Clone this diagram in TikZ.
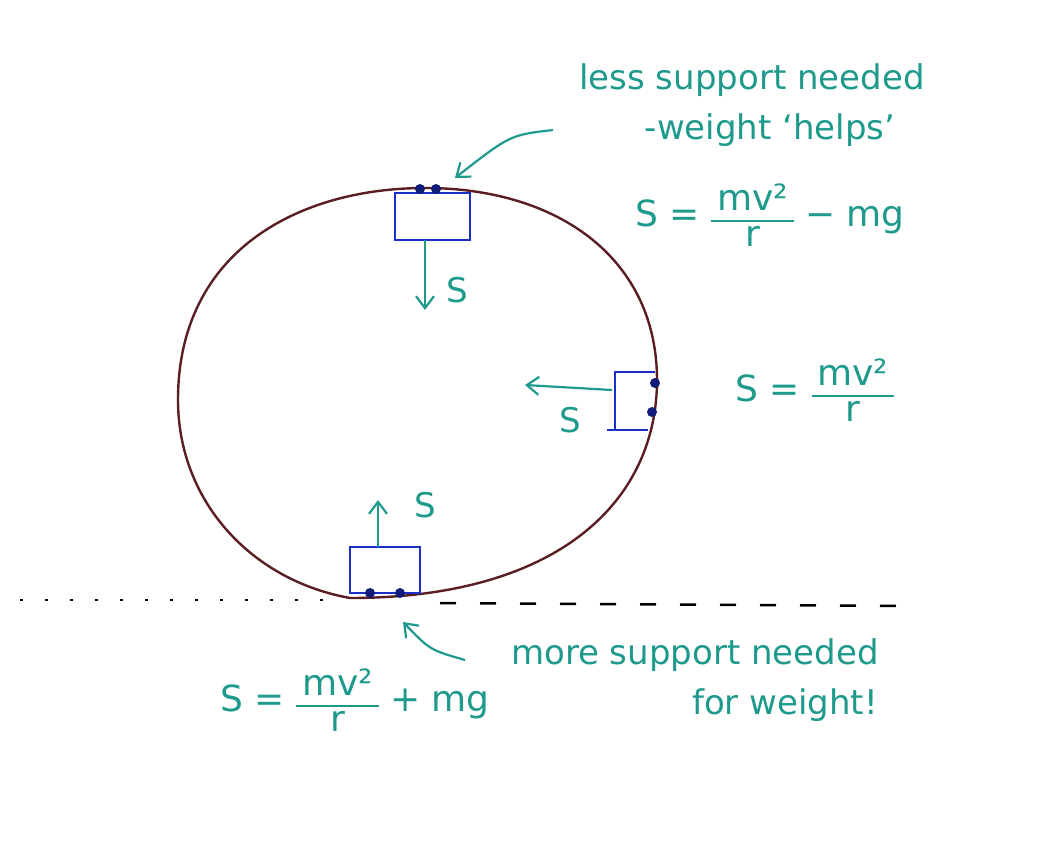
\documentclass[tikz,border=0pt]{standalone}
\usepackage{fontspec}
\setmainfont{DejaVu Sans}
\usetikzlibrary{arrows.meta}
\definecolor{teal1}{HTML}{1E9A8C}
\definecolor{track}{HTML}{5A1E22}
\definecolor{boxb}{HTML}{1A2FC8}
\newcommand{\myfr}[2]{\begingroup\renewcommand{\arraystretch}{0.85}\arrayrulewidth=2pt\begin{tabular}{@{\,}c@{\,}}#1\\\hline #2\end{tabular}\endgroup}
\begin{document}
\begin{tikzpicture}[x=1pt,y=-1pt,
  lab/.style={text=teal1,font=\fontsize{34}{40}\selectfont},
  eq/.style={text=teal1,font=\fontsize{36}{40}\selectfont},
  force/.style={teal1,line width=2.2pt,-{Straight Barb[length=12pt,width=18pt]}},
  bx/.style={boxb,line width=2.8pt},
  dotb/.style={circle,fill=boxb!60!black,inner sep=0pt,minimum size=10pt}]
\useasboundingbox (0,0) rectangle (1053,841);
% track
\draw[track,line width=2.4pt] (178,400) .. controls (178,250) and (300,188) .. (425,188)
  .. controls (560,188) and (657,260) .. (657,380)
  .. controls (657,500) and (560,598) .. (350,598)
  .. controls (250,580) and (178,500) .. (178,400);
% ground line
\draw[line width=2.5pt,dash pattern=on 3pt off 22pt] (20,600) -- (330,600);
\draw[line width=2.5pt,dash pattern=on 16pt off 24pt] (440,603) -- (900,606);
% top box
\draw[bx] (395,193) rectangle (470,240);
\node[dotb] (t1) at (420,189) {}; \node[dotb] (t2) at (436,189) {};
\coordinate (ta) at (425,240); \coordinate (tb) at (425,310);
\draw[force] (ta) -- (tb);
\node[lab] (ts) at (457,290) {S};
% right box
\draw[bx] (655,372) -- (615,372) -- (615,430); \draw[bx] (607,430) -- (648,430);
\node[dotb] (r1) at (655,383) {}; \node[dotb] (r2) at (652,412) {};
\coordinate (ra) at (612,390); \coordinate (rb) at (525,385);
\draw[force] (ra) -- (rb);
\node[lab] (rs) at (570,420) {S};
% bottom box
\draw[bx] (350,547) rectangle (420,593);
\node[dotb] (b1) at (370,593) {}; \node[dotb] (b2) at (400,593) {};
\coordinate (ba) at (378,547); \coordinate (bb) at (378,500);
\draw[force] (ba) -- (bb);
\node[lab] (bs) at (425,505) {S};
% texts
\node[lab] (l1) at (752,80) {less support needed};
\node[lab] (l2) at (770,130) {-weight ‘helps’};
\coordinate (l2a) at (553,130); \coordinate (l2b) at (455,178);
\draw[force] (l2a) .. controls (510,135) .. (l2b);
\node[eq] (e1) at (770,220) {S = \myfr{mv²}{r} − mg};
\node[eq] (e2) at (815,395) {S = \myfr{mv²}{r}};
\node[lab] (m1) at (695,655) {more support needed};
\node[lab] (m2) at (785,705) {for weight!};
\coordinate (ma) at (465,660); \coordinate (mb) at (403,622);
\draw[force] (ma) .. controls (430,650) .. (mb);
\node[eq] (e3) at (355,705) {S = \myfr{mv²}{r} + mg};
\end{tikzpicture}
\end{document}
